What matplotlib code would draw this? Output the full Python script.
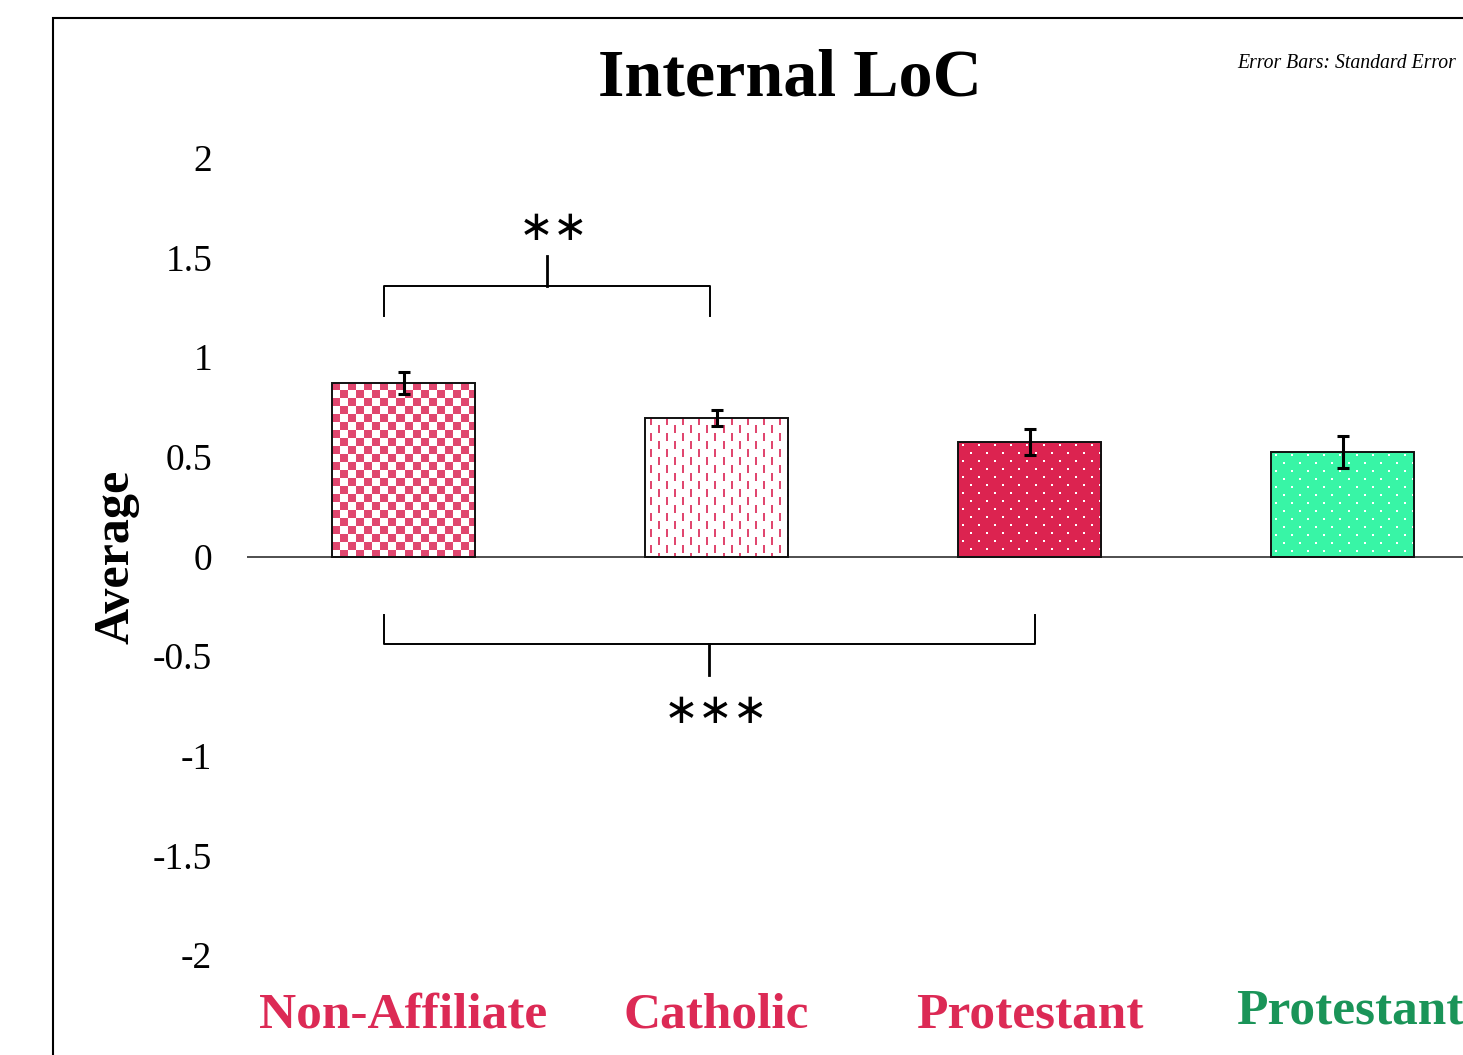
import numpy as np
import matplotlib
matplotlib.use("Agg")
import matplotlib.pyplot as plt
from matplotlib.patches import Rectangle
from matplotlib.transforms import blended_transform_factory

# data
groups = ["Non-Affiliate", "Catholic", "Protestant", "Protestant"]
means = [0.872, 0.697, 0.576, 0.526]
errors = [0.055, 0.040, 0.065, 0.080]
label_colors = ["#dc2a55", "#dc2a55", "#dc2a55", "#1a9458"]
y_ticks = [-2, -1.5, -1, -0.5, 0, 0.5, 1, 1.5, 2]
comparisons = [(0, 1, "\u2217\u2217", "up"), (0, 2, "\u2217\u2217\u2217", "down")]

# bar styles: texture kind, foreground, background
styles = [("checker", "#e0476f", "#ffffff"),
          ("dash", "#e0476f", "#ffffff"),
          ("dots", "#ffffff", "#dc2350"),
          ("dots", "#ffffff", "#38f5a6")]

W, H = 1463, 1055
fig = plt.figure(figsize=(W / 100, H / 100), dpi=100)
plt.rcParams['font.family'] = ['Liberation Serif', 'DejaVu Serif']

def fx(px):
    return px / W

def fy(py):
    return 1 - py / H

# axes spans x -0.5..3.5, cropped on the right like the source
ax = fig.add_axes([fx(247), fy(955), fx(1499) - fx(247), fy(158) - fy(955)])
ax.set_xlim(-0.5, 3.5)
ax.set_ylim(-2, 2)
for s in ax.spines.values():
    s.set_visible(False)
ax.set_xticks([])
ax.set_yticks(y_ticks)
ax.set_yticklabels([("%g" % t) for t in y_ticks], fontsize=27)
ax.tick_params(axis="y", length=0, pad=25)
ax.axhline(0, color="#404040", lw=1.3, zorder=1)


def texture(kind, h, w, fg, bg):
    fg = np.array(matplotlib.colors.to_rgb(fg))
    bg = np.array(matplotlib.colors.to_rgb(bg))
    yy, xx = np.mgrid[0:h, 0:w]
    if kind == "checker":
        m = ((yy // 8 + xx // 8) % 2) == 0
    elif kind == "dash":
        col = (xx - 5) % 8
        off = ((xx - 5) // 8) % 2 * 8
        m = (col < 2) & (((yy + off) % 16) < 8)
    else:
        row = (yy - 3) % 8
        off = ((yy - 3) // 8) % 2 * 8
        m = (row < 2) & (((xx - 4 + off) % 16) < 2)
    img = np.where(m[..., None], fg, bg)
    return img


width = 0.457
fig.canvas.draw()
for i, (m, e) in enumerate(zip(means, errors)):
    kind, fg, bg = styles[i]
    rect = Rectangle((i - width / 2, 0), width, m, facecolor="none",
                     edgecolor="#111111", lw=1.4, zorder=4)
    ax.add_patch(rect)
    p0 = ax.transData.transform((i - width / 2, 0))
    p1 = ax.transData.transform((i + width / 2, m))
    w_px = int(round(p1[0] - p0[0]))
    h_px = int(round(p1[1] - p0[1]))
    img = texture(kind, h_px, w_px, fg, bg)
    im = ax.imshow(img, extent=(i - width / 2, i + width / 2, 0, m),
                   origin="upper", interpolation="nearest", aspect="auto", zorder=3)
    im.set_clip_path(rect)
    ax.errorbar(i, m, yerr=e, fmt="none", ecolor="black", elinewidth=2.2,
                capsize=4.5, capthick=2.2, zorder=5)

ax.set_xlim(-0.5, 3.5)
ax.set_ylim(-2, 2)

# significance brackets
for a, b, stars, side in comparisons:
    xa = a - 0.062
    xb = b + 0.017 if side == "down" else b - 0.02
    if side == "up":
        yb, yl, yt, ys = 1.208, 1.358, 1.509, 1.65
    else:
        yb, yl, yt, ys = -0.296, -0.441, -0.596, -0.777
    xm = (xa + xb) / 2
    ax.plot([xa, xa, xb, xb], [yb, yl, yl, yb], color="black", lw=1.4, zorder=5)
    ax.plot([xm, xm], [yl, yt], color="black", lw=2, zorder=5)
    ax.text(xm + 0.022, ys, stars, ha="center", va="center", fontsize=30,
            family="DejaVu Sans", zorder=5)

# category labels
tr = blended_transform_factory(ax.transData, fig.transFigure)
for i, (g, c) in enumerate(zip(groups, label_colors)):
    dx = 0.022 if i == 3 else 0
    ypx = 1011 if i == 3 else 1015
    ax.text(i + dx, fy(ypx), g, transform=tr, ha="center", va="center",
            fontsize=37, fontweight="bold", color=c, clip_on=False)

# titles
fig.text(fx(790), fy(79), "Internal LoC", ha="center", va="center",
         fontsize=49, fontweight="bold")
fig.text(fx(117), fy(557), "Average", ha="center", va="center", rotation=90,
         fontsize=36, fontweight="bold")
fig.text(fx(1237), fy(63), "Error Bars: Standard Error", ha="left", va="center",
         fontsize=14.2, style="italic")

# outer frame (cropped)
fig.add_artist(Rectangle((fx(53), -0.5), 2, fy(18) + 0.5, transform=fig.transFigure,
                         fill=False, lw=1.5, edgecolor="black"))

fig.savefig("out.png", dpi=100)
